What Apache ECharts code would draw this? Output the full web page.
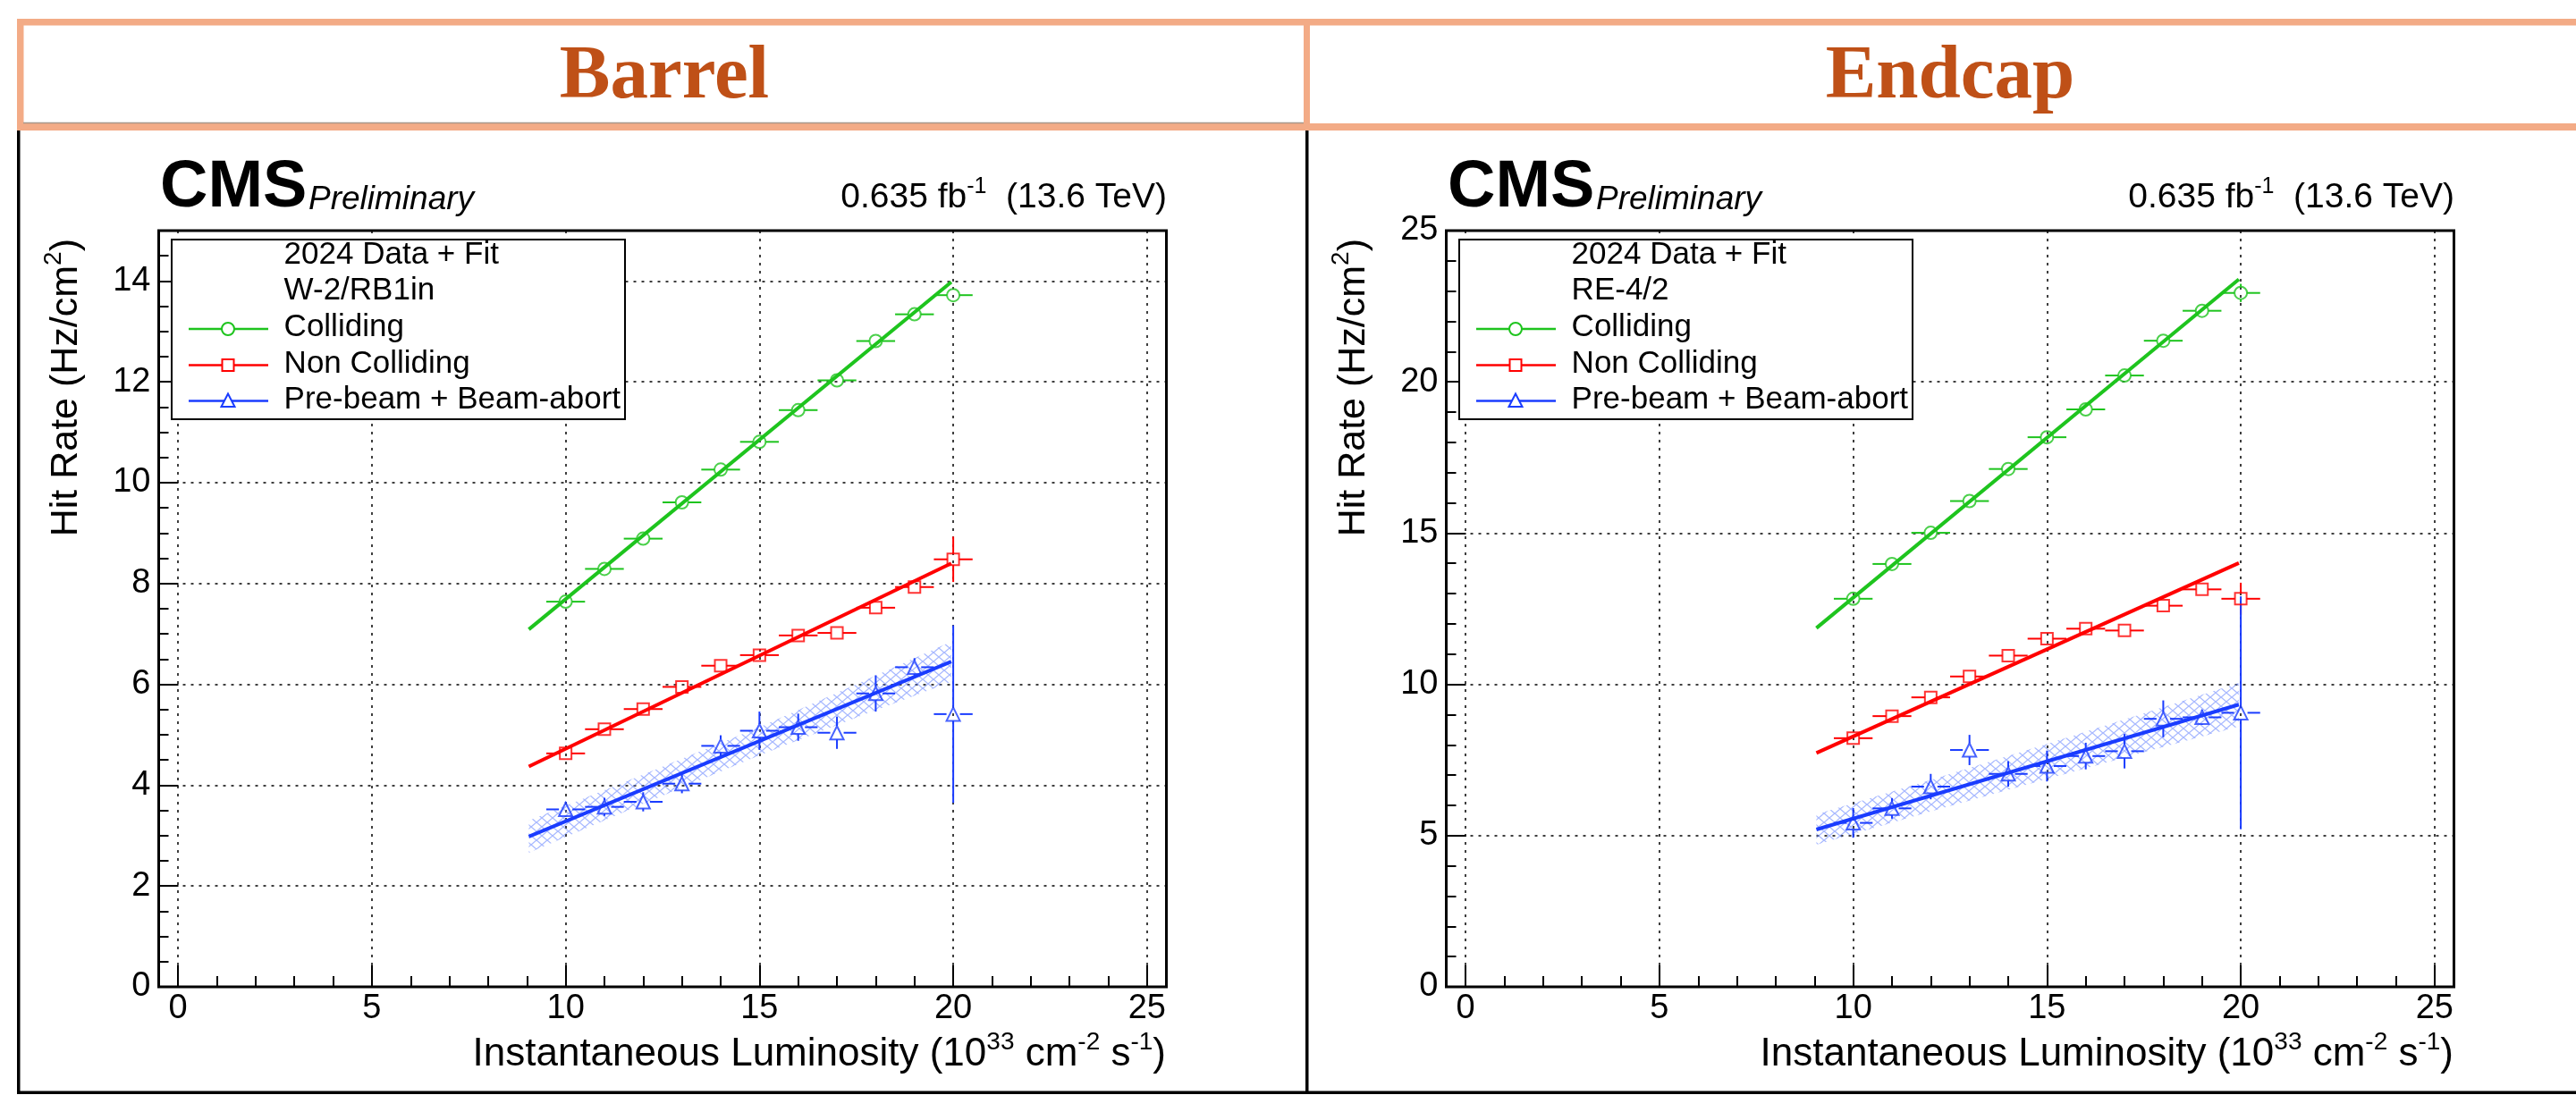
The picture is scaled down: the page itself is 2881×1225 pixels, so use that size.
<!DOCTYPE html>
<html><head><meta charset="utf-8">
<script src="https://cdn.jsdelivr.net/npm/echarts@6/dist/echarts.min.js"></script>
<style>html,body{margin:0;padding:0;background:#fff}#c{width:2881px;height:1225px}</style>
</head><body><div id="c"></div>
<script>
// ---------------- data ----------------
const lumi = [10, 11, 12, 13, 14, 15, 16, 17, 18, 19, 20];
const binHalfWidth = 0.5;
const xTickLabels = ['0', '5', '10', '15', '20', '25'];

// Barrel (W-2/RB1in)
const barrelColliding      = [7.64, 8.29, 8.89, 9.61, 10.26, 10.81, 11.44, 12.03, 12.81, 13.34, 13.72];
const barrelCollidingErr   = [0.05, 0.05, 0.05, 0.05, 0.05, 0.05, 0.05, 0.06, 0.06, 0.07, 0.12];
const barrelNonColl        = [4.63, 5.11, 5.51, 5.95, 6.37, 6.58, 6.97, 7.02, 7.52, 7.93, 8.48];
const barrelNonCollErr     = [0.05, 0.05, 0.05, 0.05, 0.05, 0.05, 0.06, 0.06, 0.07, 0.08, 0.45];
const barrelBeam           = [3.52, 3.57, 3.67, 4.03, 4.78, 5.08, 5.15, 5.04, 5.82, 6.34, 5.41];
const barrelBeamErr        = [0.15, 0.18, 0.19, 0.19, 0.21, 0.38, 0.27, 0.32, 0.36, 0.18, 1.76];
const fitRange             = [9.05, 19.95];
const barrelFitColliding   = [7.09, 13.98];
const barrelFitNonColl     = [4.37, 8.40];
const barrelFitBeam        = [2.98, 6.45];
const bandX                = [9.05, 12, 15, 17.5, 19.95];
const barrelBandLo         = [2.66, 3.63, 4.59, 5.34, 6.05];
const barrelBandHi         = [3.30, 4.21, 5.15, 6.00, 6.85];
const barrelYTicks         = ['0', '2', '4', '6', '8', '10', '12', '14'];

// Endcap (RE-4/2)
const endcapColliding      = [12.83, 13.98, 15.01, 16.06, 17.12, 18.17, 19.09, 20.21, 21.36, 22.35, 22.94];
const endcapCollidingErr   = [0.08, 0.08, 0.08, 0.08, 0.09, 0.09, 0.09, 0.10, 0.10, 0.12, 0.30];
const endcapNonColl        = [8.22, 8.95, 9.57, 10.26, 10.95, 11.51, 11.84, 11.78, 12.60, 13.14, 12.83];
const endcapNonCollErr     = [0.07, 0.07, 0.07, 0.08, 0.08, 0.08, 0.08, 0.09, 0.10, 0.11, 0.53];
const endcapBeam           = [5.42, 5.90, 6.62, 7.83, 7.04, 7.30, 7.63, 7.79, 8.86, 8.91, 9.06];
const endcapBeamErr        = [0.49, 0.34, 0.42, 0.50, 0.42, 0.51, 0.44, 0.57, 0.61, 0.25, 3.85];
const endcapFitColliding   = [11.86, 23.39];
const endcapFitNonColl     = [7.73, 14.01];
const endcapFitBeam        = [5.20, 9.33];
const endcapBandLo         = [4.70, 5.80, 6.87, 7.76, 8.61];
const endcapBandHi         = [5.70, 6.84, 8.03, 9.04, 10.05];
const endcapYTicks         = ['0', '5', '10', '15', '20', '25'];

// ---------------- styling ----------------
const FONT = "'Liberation Sans', Arial, Helvetica, sans-serif";
const SERIF = "'Liberation Serif', 'Times New Roman', serif";
const GREEN = '#1ec41e', RED = '#ff0000', BLUE = '#1a3cff';
const ORANGE = '#f3ab86', TITLE = '#bf5017';

const panels = [
  { dx: 0, title: 'Barrel', tag: 'W-2/RB1in', yMax: 15, yMajor: 2, yMinor: 0.5, yTicks: barrelYTicks,
    coll: barrelColliding, collErr: barrelCollidingErr, non: barrelNonColl, nonErr: barrelNonCollErr,
    beam: barrelBeam, beamErr: barrelBeamErr,
    fitC: barrelFitColliding, fitN: barrelFitNonColl, fitB: barrelFitBeam, lo: barrelBandLo, hi: barrelBandHi, titleX: 743 },
  { dx: 1440, title: 'Endcap', tag: 'RE-4/2', yMax: 25, yMajor: 5, yMinor: 1, yTicks: endcapYTicks,
    coll: endcapColliding, collErr: endcapCollidingErr, non: endcapNonColl, nonErr: endcapNonCollErr,
    beam: endcapBeam, beamErr: endcapBeamErr,
    fitC: endcapFitColliding, fitN: endcapFitNonColl, fitB: endcapFitBeam, lo: endcapBandLo, hi: endcapBandHi, titleX: 2181 }
];

// hatch pattern for the fit uncertainty band
const pc = document.createElement('canvas');
pc.width = 12; pc.height = 10;
const pctx = pc.getContext('2d');
pctx.strokeStyle = 'rgba(95,125,255,0.55)';
pctx.lineWidth = 1.3;
pctx.beginPath();
pctx.moveTo(-1.2, 11); pctx.lineTo(13.2, -1);
pctx.moveTo(-1.2, -1); pctx.lineTo(13.2, 11);
pctx.stroke();
const hatch = { image: pc, repeat: 'repeat' };

const gridLine = { color: '#000', width: 1.5, type: [3, 6] };
const tickStyle = { color: '#000', width: 2 };
const labelStyle = { fontSize: 38, fontFamily: FONT, color: '#000' };

const grid = [], xAxis = [], yAxis = [], series = [], graphics = [];

function inList(v, list) { return list.indexOf(String(Math.round(v * 1000) / 1000)) >= 0; }

panels.forEach((p, g) => {
  grid.push({ left: 177.5 + p.dx, top: 258, width: 1127, height: 846, show: true,
    borderColor: '#000', borderWidth: 3, backgroundColor: 'transparent',
    containLabel: false, outerBoundsMode: 'none' });
  // major x axis
  xAxis.push({ type: 'value', gridIndex: g, position: 'bottom', min: -0.5, max: 25.5,
    splitNumber: 5, minInterval: 5, maxInterval: 5,
    axisLine: { show: false, onZero: false },
    axisTick: { show: true, inside: true, length: 24, lineStyle: tickStyle },
    axisLabel: Object.assign({ margin: 6, formatter: v => inList(v, xTickLabels) ? String(Math.round(v)) : '' }, labelStyle),
    splitLine: { show: true, lineStyle: gridLine } });
  // minor x axis (ticks only)
  xAxis.push({ type: 'value', gridIndex: g, position: 'bottom', min: -0.5, max: 25.5,
    splitNumber: 26, minInterval: 1, maxInterval: 1,
    axisLine: { show: false, onZero: false },
    axisTick: { show: true, inside: true, length: 12, lineStyle: tickStyle },
    axisLabel: { show: false }, splitLine: { show: false } });
  // major y axis
  yAxis.push({ type: 'value', gridIndex: g, position: 'left', min: 0, max: p.yMax, interval: p.yMajor,
    axisLine: { show: false, onZero: false },
    axisTick: { show: true, inside: true, length: 22, lineStyle: tickStyle },
    axisLabel: Object.assign({ margin: 9, formatter: v => inList(v, p.yTicks) ? String(Math.round(v)) : '' }, labelStyle),
    splitLine: { show: true, lineStyle: gridLine } });
  // minor y axis
  yAxis.push({ type: 'value', gridIndex: g, position: 'left', min: 0, max: p.yMax, interval: p.yMinor,
    axisLine: { show: false, onZero: false },
    axisTick: { show: true, inside: true, length: 11, lineStyle: tickStyle },
    axisLabel: { show: false }, splitLine: { show: false } });

  const xi = 2 * g, yi = 2 * g;

  // hatched uncertainty band of the beam-background fit
  series.push({ type: 'custom', xAxisIndex: xi, yAxisIndex: yi, z: 2, silent: true,
    data: [[bandX[0], p.lo[0], p.hi[0]]],
    renderItem: (params, api) => {
      const pts = [];
      for (let i = 0; i < bandX.length; i++) pts.push(api.coord([bandX[i], p.hi[i]]));
      for (let i = bandX.length - 1; i >= 0; i--) pts.push(api.coord([bandX[i], p.lo[i]]));
      return { type: 'polygon', shape: { points: pts }, style: { fill: hatch, stroke: null } };
    } });

  // fit lines
  [[p.fitC, GREEN, 'Colliding fit'], [p.fitN, RED, 'Non Colliding fit'], [p.fitB, BLUE, 'Beam fit']].forEach(([f, c, n]) => {
    series.push({ type: 'line', name: n, xAxisIndex: xi, yAxisIndex: yi, z: 3, silent: true,
      symbol: 'none', showSymbol: false,
      data: [[fitRange[0], f[0]], [fitRange[1], f[1]]],
      lineStyle: { color: c, width: 4 } });
  });

  // error bars + markers
  const sets = [
    [p.coll, p.collErr, GREEN, 'circle', 14, 'Colliding'],
    [p.non, p.nonErr, RED, 'rect', 13, 'Non Colliding'],
    [p.beam, p.beamErr, BLUE, 'triangle', 15, 'Pre-beam + Beam-abort']
  ];
  sets.forEach(([ys, es, c, sym, sz, n]) => {
    const gap = sz / 2;
    series.push({ type: 'custom', xAxisIndex: xi, yAxisIndex: yi, z: 4, silent: true,
      data: lumi.map((x, i) => [x, ys[i], es[i]]),
      renderItem: (params, api) => {
        const x = api.value(0), y = api.value(1), e = api.value(2);
        const cc = api.coord([x, y]);
        const l = api.coord([x - binHalfWidth, y]), r = api.coord([x + binHalfWidth, y]);
        const t = api.coord([x, y + e]), b = api.coord([x, y - e]);
        const st = { stroke: c, lineWidth: 2 };
        const ch = [
          { type: 'line', shape: { x1: l[0], y1: cc[1], x2: cc[0] - gap, y2: cc[1] }, style: st },
          { type: 'line', shape: { x1: cc[0] + gap, y1: cc[1], x2: r[0], y2: cc[1] }, style: st }
        ];
        if (t[1] < cc[1] - gap) ch.push({ type: 'line', shape: { x1: cc[0], y1: t[1], x2: cc[0], y2: cc[1] - gap }, style: st });
        if (b[1] > cc[1] + gap) ch.push({ type: 'line', shape: { x1: cc[0], y1: cc[1] + gap, x2: cc[0], y2: b[1] }, style: st });
        return { type: 'group', children: ch };
      } });
    series.push({ type: 'scatter', name: n, xAxisIndex: xi, yAxisIndex: yi, z: 5, silent: true,
      symbol: sym, symbolSize: sz,
      data: lumi.map((x, i) => [x, ys[i]]),
      itemStyle: { color: 'transparent', borderColor: c, borderWidth: 2 } });
  });

  // ---------- texts & legend (graphic) ----------
  const dx = p.dx;
  graphics.push({ type: 'text', z: 50, style: { x: p.titleX, y: 87, text: p.title, align: 'center', verticalAlign: 'middle',
    font: `bold 85px ${SERIF}`, fill: TITLE } });
  graphics.push({ type: 'text', z: 50, style: { x: 179 + dx, y: 211, text: 'CMS', align: 'left', verticalAlign: 'middle',
    font: `bold 74px ${FONT}`, fill: '#000' } });
  graphics.push({ type: 'text', z: 50, style: { x: 345 + dx, y: 224, text: 'Preliminary', align: 'left', verticalAlign: 'middle',
    font: `italic 37px ${FONT}`, fill: '#000' } });
  graphics.push({ type: 'text', z: 50, style: { x: 1305 + dx, y: 221.5, text: '{m|0.635 fb}{s|-1}{m|  (13.6 TeV)}',
    align: 'right', verticalAlign: 'middle', fill: '#000',
    rich: { m: { fontSize: 39, fontFamily: FONT, lineHeight: 50, fill: '#000' },
            s: { fontSize: 25, fontFamily: FONT, lineHeight: 25, verticalAlign: 'top', fill: '#000' } } } });
  // x-axis title
  graphics.push({ type: 'text', z: 50, style: { x: 1304 + dx, y: 1180,
    text: '{m|Instantaneous Luminosity (10}{s|33}{m| cm}{s|-2}{m| s}{s|-1}{m|)}',
    align: 'right', verticalAlign: 'middle', fill: '#000',
    rich: { m: { fontSize: 44, fontFamily: FONT, lineHeight: 56, fill: '#000' },
            s: { fontSize: 28, fontFamily: FONT, lineHeight: 28, verticalAlign: 'top', fill: '#000' } } } });
  // y-axis title
  graphics.push({ type: 'text', z: 50, x: 74 + dx, y: 267, rotation: Math.PI / 2,
    style: { x: 0, y: 0, text: '{m|Hit Rate (Hz/cm}{s|2}{m|)}', align: 'right', verticalAlign: 'middle', fill: '#000',
      rich: { m: { fontSize: 43, fontFamily: FONT, lineHeight: 56, fill: '#000' },
              s: { fontSize: 28, fontFamily: FONT, lineHeight: 28, verticalAlign: 'top', fill: '#000' } } } });

  // legend
  graphics.push({ type: 'rect', z: 60, shape: { x: 192 + dx, y: 268, width: 507, height: 201 },
    style: { fill: '#fff', stroke: '#000', lineWidth: 2 } });
  const legTxt = (s, y) => ({ type: 'text', z: 61, style: { x: 317.6 + dx, y: y, text: s, align: 'left', verticalAlign: 'middle',
    font: `35px ${FONT}`, fill: '#000' } });
  graphics.push(legTxt('2024 Data + Fit', 285), legTxt(p.tag, 325), legTxt('Colliding', 366),
    legTxt('Non Colliding', 407), legTxt('Pre-beam + Beam-abort', 447));
  [[368, GREEN, 'circle'], [408.5, RED, 'rect'], [448.5, BLUE, 'triangle']].forEach(([y, c, s]) => {
    graphics.push({ type: 'line', z: 61, shape: { x1: 211 + dx, y1: y, x2: 300 + dx, y2: y }, style: { stroke: c, lineWidth: 2.5 } });
    const mst = { fill: '#fff', stroke: c, lineWidth: 2 };
    const cx = 255 + dx;
    if (s === 'circle') graphics.push({ type: 'circle', z: 62, shape: { cx: cx, cy: y, r: 7 }, style: mst });
    else if (s === 'rect') graphics.push({ type: 'rect', z: 62, shape: { x: cx - 6.5, y: y - 6.5, width: 13, height: 13 }, style: mst });
    else graphics.push({ type: 'polygon', z: 62, shape: { points: [[cx, y - 8], [cx + 7.5, y + 6.5], [cx - 7.5, y + 6.5]] }, style: mst });
  });
});

// header box and panel borders
graphics.push(
  { type: 'rect', z: 40, shape: { x: 19, y: 21, width: 2862, height: 7.5 }, style: { fill: ORANGE } },
  { type: 'rect', z: 40, shape: { x: 19, y: 138, width: 2862, height: 8 }, style: { fill: ORANGE } },
  { type: 'rect', z: 40, shape: { x: 19, y: 21, width: 7.5, height: 125 }, style: { fill: ORANGE } },
  { type: 'rect', z: 40, shape: { x: 1458, y: 21, width: 7, height: 125 }, style: { fill: ORANGE } },
  { type: 'line', z: 41, shape: { x1: 26, y1: 137.5, x2: 1458, y2: 137.5 }, style: { stroke: '#a8978a', lineWidth: 1.5 } },
  { type: 'rect', z: 40, shape: { x: 19, y: 146, width: 3.5, height: 1078 }, style: { fill: '#000' } },
  { type: 'rect', z: 40, shape: { x: 1460, y: 146, width: 3.5, height: 1078 }, style: { fill: '#000' } },
  { type: 'rect', z: 40, shape: { x: 19, y: 1220.5, width: 2862, height: 3.5 }, style: { fill: '#000' } }
);

const chart = echarts.init(document.getElementById('c'), null, { renderer: 'canvas' });
chart.setOption({
  animation: false,
  backgroundColor: '#fff',
  grid: grid, xAxis: xAxis, yAxis: yAxis, series: series,
  graphic: { elements: graphics }
});
</script></body></html>
